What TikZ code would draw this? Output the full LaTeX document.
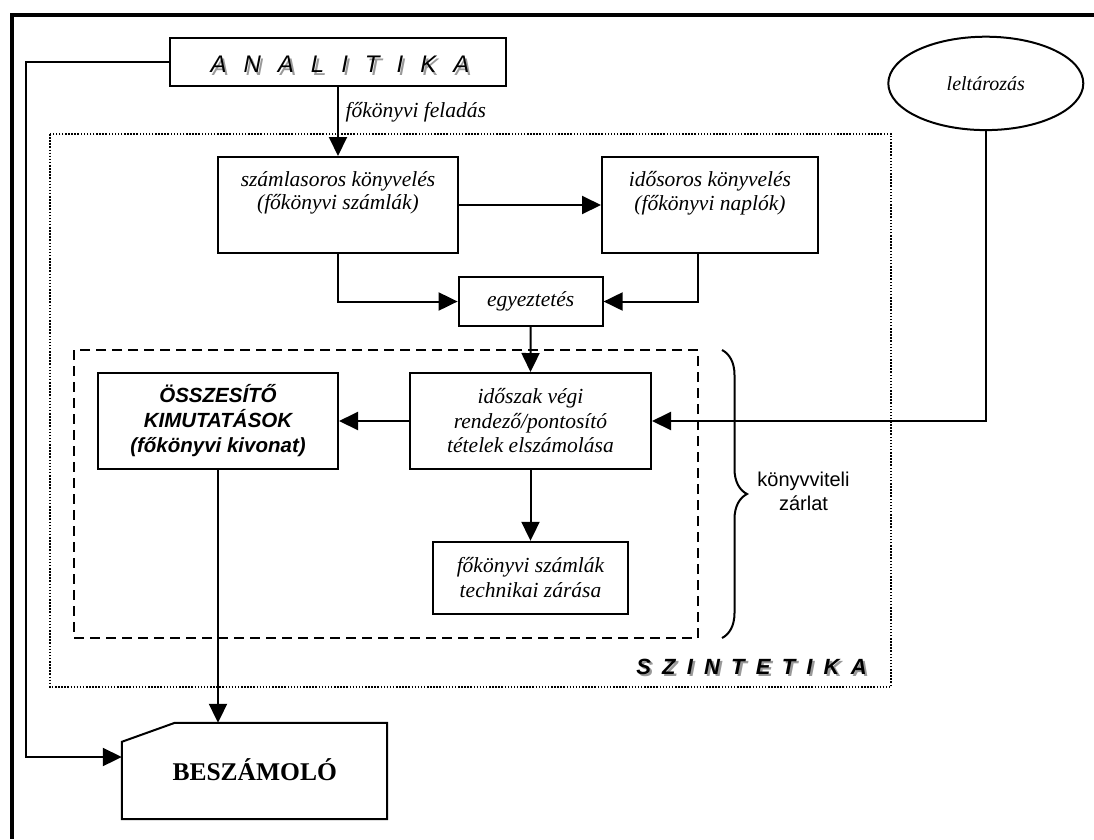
\documentclass[tikz,border=0pt]{standalone}
\usepackage{fontspec}
\setmainfont{Liberation Serif}
\setsansfont{Liberation Sans}
\newfontfamily\arialfont{Liberation Sans}
\usetikzlibrary{arrows.meta,decorations.pathreplacing,shapes.geometric,calc}
\newcommand\gapA{\hspace{17pt}}
\newcommand\gapB{\hspace{11.2pt}}
\newcommand\shadowtext[2]{\rlap{\kern#1\raisebox{-#1}{\color{black!40}#2}}#2}
\tikzset{
  boxline/.style={draw=black, line width=2pt},
  box/.style={boxline, rectangle, inner sep=0pt, align=center,
    font=\fontsize{21.5}{24.5}\selectfont\itshape},
  plain/.style={inner sep=0pt, align=center},
  conn/.style={line width=2pt, draw=black},
  arr/.style={conn, -{Triangle[length=19pt,width=18pt]}},
}
\begin{document}
\begin{tikzpicture}[x=1pt,y=-1pt]
\useasboundingbox (0,0) rectangle (1094,839);
% outer frame (top and left visible)
\draw[line width=4pt] (1094,15.3) -- (11.5,15.3) -- (11.5,839);
% dotted and dashed areas
\draw[line width=1.5pt, dash pattern=on 1.5pt off 1.6pt] (50,134) rectangle (891,687);
\draw[line width=2pt, dash pattern=on 10pt off 6pt] (74,350) rectangle (698,638);

% nodes
\node[box, minimum width=336, minimum height=48] (ana) at (338,62) {};
\node[plain, anchor=base, font=\fontsize{24}{28}\selectfont\sffamily\itshape] (anatext) at (340,72.7) {\shadowtext{2.3pt}{A\gapA N\gapA A\gapA L\gapA I\gapA T\gapA I\gapA K\gapA A}};

\node[box, minimum width=240, minimum height=96] (szl) at (338,205) {};
\node[plain, font=\fontsize{21.5}{23.5}\selectfont\itshape] (szltext) at (338,193) {számlasoros könyvelés\\(főkönyvi számlák)};

\node[box, minimum width=216, minimum height=96] (ido) at (710,205) {};
\node[plain, font=\fontsize{21.5}{23.5}\selectfont\itshape] (idotext) at (710,193) {idősoros könyvelés\\(főkönyvi naplók)};

\node[box, minimum width=144, minimum height=49] (egy) at (530.6,301.5) {egyeztetés};

\node[box, minimum width=241, minimum height=96] (vegi) at (530.5,421) {időszak végi\\rendező/pontosító\\tételek elszámolása};

\node[box, minimum width=240, minimum height=96, font=\fontsize{20.5}{25}\selectfont\sffamily\bfseries\itshape] (osz) at (218,421) {ÖSSZESÍTŐ\\KIMUTATÁSOK\\(főkönyvi kivonat)};

\node[box, minimum width=195, minimum height=72, font=\fontsize{21.5}{25}\selectfont\itshape] (tech) at (530.5,577.8) {főkönyvi számlák\\technikai zárása};

\node[boxline, ellipse, inner sep=0pt, minimum width=195, minimum height=93.4, font=\fontsize{20}{23}\selectfont\itshape] (lelt) at (985.8,83.4) {leltározás};

% BESZAMOLO shape
\node[inner sep=0pt, minimum width=265, minimum height=96] (besz) at (254.5,771) {};
\draw[boxline] ($(besz.north west)+(0,19)$) -- ($(besz.north west)+(53,0)$) -- (besz.north east) -- (besz.south east) -- (besz.south west) -- cycle;
\node[plain, anchor=base, font=\fontsize{25.5}{28}\selectfont\bfseries] (besztext) at (254.7,780) {BESZÁMOLÓ};

% labels
\node[plain, anchor=base west, font=\fontsize{21.5}{24}\selectfont\itshape] (feladas) at (345.5,117) {főkönyvi feladás};
\node[plain, font=\fontsize{20}{24}\selectfont\arialfont] (zarlat) at (803.5,491.6) {könyvviteli\\zárlat};
\node[plain, anchor=base, font=\fontsize{22}{26}\selectfont\sffamily\bfseries\itshape] (szint) at (751.5,674.3) {\shadowtext{2.3pt}{S\gapB Z\gapB I\gapB N\gapB T\gapB E\gapB T\gapB I\gapB K\gapB A}};

% brace
\coordinate (braceTop) at (722,350);
\coordinate (braceBot) at (722,638);
\draw[line width=2pt, decorate, decoration={brace, amplitude=25pt}] (braceTop) -- (braceBot);

% connectors
\coordinate (leftTop) at (26,62);
\coordinate (leftBot) at (26,757);
\draw[arr] (ana.west) -- (leftTop) -- (leftBot) -- (leftBot -| besz.west);
\draw[arr] (ana.south) -- (szl.north);
\draw[arr] (szl.east) -- (ido.west);
\draw[arr] (szl.south) |- (egy.west);
\coordinate (idoB) at ($(ido.south)+(-12,0)$);
\draw[arr] (idoB) |- (egy.east);
\draw[arr] (egy.south) -- (vegi.north);
\draw[arr] (vegi.west) -- (osz.east);
\draw[arr] (vegi.south) -- (tech.north);
\draw[arr] (lelt.south) |- (vegi.east);
\draw[arr] (osz.south) -- (osz.south |- besz.north);
\end{tikzpicture}
\end{document}
